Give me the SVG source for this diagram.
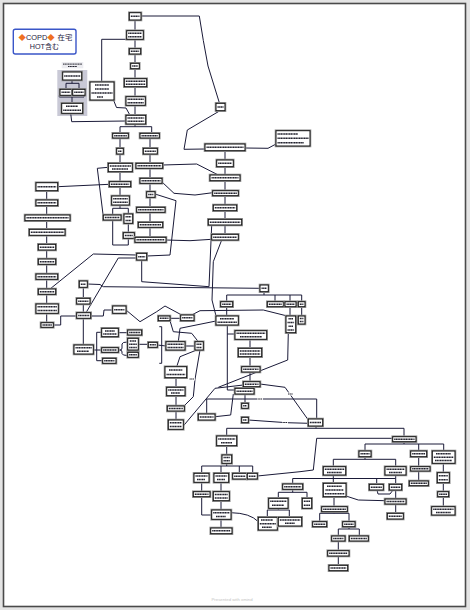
<svg xmlns="http://www.w3.org/2000/svg" width="470" height="610" viewBox="0 0 470 610">
<style>
.o{fill:#fff;stroke:#9a9a9a;stroke-width:2.6}
.n{fill:#fff;stroke:#111;stroke-width:1}
.t{stroke:#22222e;stroke-width:1.5;stroke-dasharray:1.3 .35}
.c{fill:none;stroke:#1a1a38;stroke-width:1;stroke-linejoin:round}
.lb{fill:#fff}
</style>
<rect x="0" y="0" width="470" height="610" fill="#e4e4e4"/>
<rect x="3.5" y="3.5" width="462" height="603" fill="#fff" stroke="#4a4a4a" stroke-width="1.6"/>
<g id="title">
<rect x="13.3" y="29.3" width="62.7" height="24.7" rx="2" fill="#fff" stroke="#3a56c8" stroke-width="1.4"/>
<text x="18.5" y="39.5" font-family="'Liberation Sans','Noto Sans CJK JP',sans-serif" font-size="7.4" fill="#1e2240"><tspan fill="#f07020">◆</tspan>COPD<tspan fill="#f07020">◆</tspan><tspan x="57.5">在宅</tspan></text>
<text x="44.5" y="48.6" text-anchor="middle" font-family="'Liberation Sans','Noto Sans CJK JP',sans-serif" font-size="7.2" fill="#1e2240">HOT含む</text>
</g>
<g id="group-bg">
<rect x="57.3" y="70" width="30" height="46" fill="#c9c9d6"/>
<rect x="61.7" y="62" width="21.6" height="6.3" fill="#ececf0"/>
<line class="t" x1="63" y1="64.1" x2="82" y2="64.1" style="stroke-width:1"/>
<line class="t" x1="68" y1="66.5" x2="77" y2="66.5" style="stroke-width:1"/>
</g>
<g id="connectors">
<polyline class="c" points="135,20 135,30.7"/>
<polyline class="c" points="135,39.3 135,48.7"/>
<polyline class="c" points="135,54 135,63.3"/>
<polyline class="c" points="135,68.7 135,78.7"/>
<polyline class="c" points="135,86.7 135,96.7"/>
<polyline class="c" points="135,105.3 135,115.3"/>
<path class="c" d="M141,16 L199.3,16 Q203,40 208,66 L219.5,103.3"/>
<polyline class="c" points="220,110.7 187.3,130 184,149.3 205,149"/>
<polyline class="c" points="245,148 268,148.3 276,144"/>
<polyline class="c" points="225,150.7 225,160"/>
<polyline class="c" points="101.7,82 101.7,39.3 126.7,39.3"/>
<polyline class="c" points="113.5,100 116.5,107.5 126,108 130,115.3"/>
<polyline class="c" points="72,80 72,83.3"/>
<polyline class="c" points="66,89.3 66,83.3 79,83.3 79,89.3"/>
<polyline class="c" points="59.3,95.3 59.3,97 84,97 84,95.3"/>
<polyline class="c" points="72,97 72,103.3"/>
<polyline class="c" points="70.7,113.3 71.7,121.7 126,121"/>
<polyline class="c" points="135,124 135,126.7"/>
<polyline class="c" points="120,133.3 120,126.7 151.7,126.7 151.7,133.3"/>
<polyline class="c" points="120,138 120,148.3"/>
<polyline class="c" points="150,138 150,148.3"/>
<polyline class="c" points="120,154 120,163.3"/>
<polyline class="c" points="150,154 150,163.3"/>
<polyline class="c" points="120,171.7 120,181.7"/>
<polyline class="c" points="57.7,186.7 109.3,184.3"/>
<polyline class="c" points="108.3,167.3 97.3,168.3 103.3,216.7"/>
<polyline class="c" points="120,186.7 120,196"/>
<polyline class="c" points="120,205 120,208.3"/>
<polyline class="c" points="112.7,215 112.7,208.3 128.3,208.3 128.3,214"/>
<polyline class="c" points="128.3,223.3 128.3,232.7"/>
<polyline class="c" points="112.7,220 112.7,245 128.3,245 128.3,238.3"/>
<polyline class="c" points="150,168.3 150,178.3"/>
<polyline class="c" points="150,183.3 150,191.7"/>
<polyline class="c" points="150,197.3 150,207.3"/>
<polyline class="c" points="150,212.3 150,222.3"/>
<polyline class="c" points="150,227.3 150,237.3"/>
<polyline class="c" points="162.7,165 196.7,164 218.3,175"/>
<polyline class="c" points="161.7,181.7 174,193.3 195,195 212.7,192.7"/>
<polyline class="c" points="155,194 176,200.7 170,255 146.7,256"/>
<polyline class="c" points="166,240 190,240.7 211.7,239.3"/>
<polyline class="c" points="225,166.7 225,175"/>
<polyline class="c" points="225,180.7 225,190.7"/>
<polyline class="c" points="225,195.7 225,205"/>
<polyline class="c" points="225,210.7 225,219.3"/>
<polyline class="c" points="225,225 225,234.3"/>
<polyline class="c" points="46.7,190.7 46.7,200"/>
<polyline class="c" points="46.7,205.7 46.7,215"/>
<polyline class="c" points="46.7,220.7 46.7,229.3"/>
<polyline class="c" points="46.7,235.3 46.7,244.3"/>
<polyline class="c" points="46.7,250 46.7,259"/>
<polyline class="c" points="46.7,264.3 46.7,274"/>
<polyline class="c" points="46.7,279.3 46.7,289"/>
<polyline class="c" points="46.7,294.3 46.7,304"/>
<polyline class="c" points="46.7,313.3 46.7,322.7"/>
<polyline class="c" points="136.7,255 93.3,254 50,289"/>
<polyline class="c" points="136.7,258 118.3,258 86,312.7"/>
<polyline class="c" points="141.7,260 141.7,281.7 209,286.7 211.7,225"/>
<polyline class="c" points="87.3,284 100,284.5 103.3,286.7 260,288.3"/>
<polyline class="c" points="83.3,287.3 83.3,298.3"/>
<polyline class="c" points="83.3,304 83.3,312.7"/>
<polyline class="c" points="221.7,240 213.3,261.7 212,300 216,316"/>
<polyline class="c" points="264,291.7 264,295"/>
<polyline class="c" points="226.7,301.7 226.7,295 301.7,295 301.7,301.7"/>
<polyline class="c" points="275,295 275,301.7"/>
<polyline class="c" points="290,295 290,301.7"/>
<polyline class="c" points="226.7,306.7 226.7,316"/>
<polyline class="c" points="290,306.7 290,316"/>
<polyline class="c" points="301.7,306.7 301.7,316"/>
<polyline class="c" points="53.3,325 60.7,325 60.7,316 76.7,316"/>
<polyline class="c" points="90.7,316 103.3,316 104,310 112.7,310"/>
<polyline class="c" points="126,310 140,321.7 156.7,311.7 165,306 181.7,315"/>
<polyline class="c" points="170,318.3 180.7,318.3"/>
<polyline class="c" points="191.7,315 200,310.7 263.3,310 287.3,316"/>
<polyline class="c" points="83.3,318.3 83.3,345"/>
<polyline class="c" points="93.3,350 96.7,350"/>
<polyline class="c" points="101.7,332.3 96.7,332.3 96.7,360.7 102.7,360.7"/>
<polyline class="c" points="96.7,350 101.7,350"/>
<polyline class="c" points="118.3,332.7 127.7,332.7"/>
<path class="c" d="M118.3,350 L120,350 Q122,350 122,348 L122,344 Q122,342 127.7,342 M122,352 Q122,350 120,350 M122,352 L122,353.5 Q122,355.5 127.7,355.5"/>
<polyline class="c" points="138.3,344.3 148.3,344.3"/>
<polyline class="c" points="159.3,326.7 161.7,326.7 161.7,363.3 159.3,363.3"/>
<polyline class="c" points="157.3,345 166,346"/>
<polyline class="c" points="185,346 195,346"/>
<polyline class="c" points="170,320.7 173.3,331.7 191.7,333.3 198.3,341.7"/>
<polyline class="c" points="216,321 180,328.3 178.3,341.7"/>
<polyline class="c" points="196.7,350 180,356.7 176.7,366.7"/>
<polyline class="c" points="176,377.7 176,387.3"/>
<polyline class="c" points="176,395.7 176,406"/>
<polyline class="c" points="176,411 176,420"/>
<polyline class="c" points="200,350 195,379.3 193.3,396.7 183.3,406.7"/>
<polyline class="c" points="183.3,426 215,388.3 243.3,385"/>
<polyline class="c" points="288.3,332.7 287.7,360 218.3,387.3"/>
<polyline class="c" points="227.3,325 227.3,334 235,334"/>
<polyline class="c" points="227.3,334 227.3,390 235,390"/>
<polyline class="c" points="250,339.3 250,348.3"/>
<polyline class="c" points="250,356.7 250,366.7"/>
<polyline class="c" points="250,372 250,381.7"/>
<polyline class="c" points="260,384 285,387.3 308.3,420"/>
<polyline class="c" points="233.3,394 230.7,415 215,416.7"/>
<polyline class="c" points="316.7,419 316.7,399 206.7,399 206.7,414"/>
<polyline class="c" points="248.3,420 286.7,422.7 308.3,423.3"/>
<polyline class="c" points="245,394 245,403.3"/>
<polyline class="c" points="316,426 316,428.3"/>
<polyline class="c" points="226.7,436 226.7,428.3 404,428.3 404,436.7"/>
<polyline class="c" points="226.7,445.7 226.7,455"/>
<polyline class="c" points="226.7,463.3 226.7,466"/>
<polyline class="c" points="201.7,473.3 201.7,466 252.7,466 252.7,473.3"/>
<polyline class="c" points="221,466 221,473.3"/>
<polyline class="c" points="239.3,466 239.3,473.3"/>
<polyline class="c" points="201.7,482.3 201.7,491.7"/>
<polyline class="c" points="221,482.3 221,491.7"/>
<polyline class="c" points="221,500.7 221,510"/>
<polyline class="c" points="221,519.3 221,528"/>
<polyline class="c" points="201.7,496.7 201.7,515 211.7,515"/>
<path class="c" d="M231,512.7 Q250,513 258.3,521.7"/>
<polyline class="c" points="392.7,438.3 316.7,438.3 313.3,470 300,471.7 257.3,476"/>
<polyline class="c" points="404,441.7 404,444"/>
<polyline class="c" points="365,451 365,444 443.7,444 443.7,451"/>
<polyline class="c" points="418.7,444 418.7,451"/>
<polyline class="c" points="365,456.7 365,459.3"/>
<polyline class="c" points="333.3,466.7 333.3,459.3 395.7,459.3 395.7,466.7"/>
<polyline class="c" points="333.3,475 333.3,478.5"/>
<polyline class="c" points="292.7,484 292.7,478.5 395.7,478.5 395.7,484.3"/>
<polyline class="c" points="333.3,478.5 333.3,483.3"/>
<polyline class="c" points="376.7,478.5 376.7,484.3"/>
<polyline class="c" points="395.7,475 395.7,478.5"/>
<polyline class="c" points="292.7,489.3 292.7,492.3"/>
<polyline class="c" points="278.3,498.3 278.3,492.3 307,492.3 307,498.3"/>
<polyline class="c" points="278.3,508.3 278.3,510"/>
<polyline class="c" points="267.3,517.3 267.3,510 289.3,510 289.3,517.3"/>
<polyline class="c" points="346,496 358.3,500 385,500.7"/>
<polyline class="c" points="377,490 378,494 390,494 393,490"/>
<polyline class="c" points="395.7,490 395.7,499"/>
<polyline class="c" points="395.7,504 395.7,513.3"/>
<polyline class="c" points="418.7,456.7 418.7,466.7"/>
<polyline class="c" points="418.7,471 418.7,481"/>
<polyline class="c" points="443.3,463.3 443.3,472.7"/>
<polyline class="c" points="443.3,482.7 443.3,491.7"/>
<polyline class="c" points="443.3,496.7 443.3,506.7"/>
<polyline class="c" points="334,496.7 334,506.7"/>
<polyline class="c" points="334,511.7 334,513.3"/>
<polyline class="c" points="319.7,521.7 319.7,513.3 349,513.3 349,521.7"/>
<polyline class="c" points="349,526.7 349,529"/>
<polyline class="c" points="338.3,536 338.3,529 359.3,529 359.3,536"/>
<polyline class="c" points="338.3,541 338.3,550.7"/>
<polyline class="c" points="338.3,556 338.3,565.3"/>
<rect class="lb" x="189" y="377.5" width="6" height="3"/><line class="t" x1="189.5" y1="379" x2="194.5" y2="379" style="stroke-width:1"/>
<rect class="lb" x="257" y="397.5" width="6" height="3"/><line class="t" x1="257.5" y1="399" x2="262.5" y2="399" style="stroke-width:1"/>
<rect class="lb" x="287.5" y="392.5" width="6" height="3"/><line class="t" x1="288" y1="394" x2="293" y2="394" style="stroke-width:1"/>
<rect class="lb" x="282" y="421" width="6" height="3"/><line class="t" x1="282.5" y1="422.5" x2="287.5" y2="422.5" style="stroke-width:1"/>
</g>
<g id="n1"><rect class="o" x="129.3" y="12.7" width="11.7" height="7.3"/><rect class="n" x="129.3" y="12.7" width="11.7" height="7.3"/><line class="t" x1="130.8" y1="16.35" x2="139.5" y2="16.35"/></g>
<g id="n2"><rect class="o" x="126.7" y="30.7" width="16.6" height="8.6"/><rect class="n" x="126.7" y="30.7" width="16.6" height="8.6"/><line class="t" x1="128.2" y1="33.35" x2="141.8" y2="33.35"/><line class="t" x1="128.2" y1="36.65" x2="141.8" y2="36.65"/></g>
<g id="n3"><rect class="o" x="129.3" y="48.7" width="11.4" height="5.3"/><rect class="n" x="129.3" y="48.7" width="11.4" height="5.3"/><line class="t" x1="130.8" y1="51.35" x2="139.2" y2="51.35"/></g>
<g id="n4"><rect class="o" x="130.7" y="63.3" width="8.6" height="5.4"/><rect class="n" x="130.7" y="63.3" width="8.6" height="5.4"/><line class="t" x1="132.2" y1="66" x2="137.8" y2="66"/></g>
<g id="n5"><rect class="o" x="124.3" y="78.7" width="22.4" height="8"/><rect class="n" x="124.3" y="78.7" width="22.4" height="8"/><line class="t" x1="125.8" y1="81.2" x2="145.2" y2="81.2"/><line class="t" x1="125.8" y1="84.2" x2="145.2" y2="84.2"/></g>
<g id="n6"><rect class="o" x="126" y="96.7" width="19.3" height="8.6"/><rect class="n" x="126" y="96.7" width="19.3" height="8.6"/><line class="t" x1="127.5" y1="99.35" x2="143.8" y2="99.35"/><line class="t" x1="127.5" y1="102.65" x2="143.8" y2="102.65"/></g>
<g id="n7"><rect class="o" x="126" y="115.3" width="19.7" height="8.7"/><rect class="n" x="126" y="115.3" width="19.7" height="8.7"/><line class="t" x1="127.5" y1="118" x2="144.2" y2="118"/><line class="t" x1="127.5" y1="121.3" x2="144.2" y2="121.3"/></g>
<g id="n8"><rect class="o" x="90" y="82" width="24" height="18"/><rect class="n" x="90" y="82" width="24" height="18"/><line class="t" x1="95" y1="85" x2="109" y2="85"/><line class="t" x1="95" y1="89" x2="109" y2="89"/><line class="t" x1="91.5" y1="93" x2="112.5" y2="93"/><line class="t" x1="97" y1="97" x2="103" y2="97"/></g>
<g id="g1"><rect class="o" x="62.7" y="72" width="19" height="8"/><rect class="n" x="62.7" y="72" width="19" height="8"/><line class="t" x1="64.2" y1="76" x2="80.2" y2="76"/></g>
<g id="g2"><rect class="o" x="60" y="89.3" width="11.7" height="6"/><rect class="n" x="60" y="89.3" width="11.7" height="6"/><line class="t" x1="61.5" y1="92.3" x2="70.2" y2="92.3"/></g>
<g id="g3"><rect class="o" x="72.7" y="89.3" width="12.3" height="6"/><rect class="n" x="72.7" y="89.3" width="12.3" height="6"/><line class="t" x1="74.2" y1="92.3" x2="83.5" y2="92.3"/></g>
<g id="g4"><rect class="o" x="61.7" y="103.3" width="21" height="10"/><rect class="n" x="61.7" y="103.3" width="21" height="10"/><line class="t" x1="66" y1="106.3" x2="78" y2="106.3"/><line class="t" x1="63.2" y1="110.3" x2="81.2" y2="110.3"/></g>
<g id="n9"><rect class="o" x="216" y="103.3" width="9" height="7.4"/><rect class="n" x="216" y="103.3" width="9" height="7.4"/><line class="t" x1="217.5" y1="107" x2="223.5" y2="107"/></g>
<g id="n10"><rect class="o" x="205" y="144" width="40" height="6.7"/><rect class="n" x="205" y="144" width="40" height="6.7"/><line class="t" x1="206.5" y1="147.35" x2="243.5" y2="147.35"/></g>
<g id="n11"><rect class="o" x="276" y="130.7" width="34" height="15.3"/><rect class="n" x="276" y="130.7" width="34" height="15.3"/><line class="t" x1="277.5" y1="133.9" x2="298" y2="133.9"/><line class="t" x1="277.5" y1="138.35" x2="308.5" y2="138.35"/><line class="t" x1="277.5" y1="142.8" x2="304" y2="142.8"/></g>
<g id="n12"><rect class="o" x="112.7" y="133.3" width="15.6" height="4.7"/><rect class="n" x="112.7" y="133.3" width="15.6" height="4.7"/><line class="t" x1="114.2" y1="135.65" x2="126.8" y2="135.65"/></g>
<g id="n13"><rect class="o" x="140" y="133.3" width="19.3" height="4.7"/><rect class="n" x="140" y="133.3" width="19.3" height="4.7"/><line class="t" x1="141.5" y1="135.65" x2="157.8" y2="135.65"/></g>
<g id="n14"><rect class="o" x="116.7" y="148.3" width="6.6" height="5.7"/><rect class="n" x="116.7" y="148.3" width="6.6" height="5.7"/><line class="t" x1="118.2" y1="151.15" x2="121.8" y2="151.15"/></g>
<g id="n15"><rect class="o" x="143.3" y="148.3" width="14" height="5.7"/><rect class="n" x="143.3" y="148.3" width="14" height="5.7"/><line class="t" x1="144.8" y1="151.15" x2="155.8" y2="151.15"/></g>
<g id="n16"><rect class="o" x="108.3" y="163.3" width="24" height="8.4"/><rect class="n" x="108.3" y="163.3" width="24" height="8.4"/><line class="t" x1="109.8" y1="165.9" x2="130.8" y2="165.9"/><line class="t" x1="112" y1="169.1" x2="128" y2="169.1"/></g>
<g id="n17"><rect class="o" x="136" y="163.3" width="26.7" height="5"/><rect class="n" x="136" y="163.3" width="26.7" height="5"/><line class="t" x1="137.5" y1="165.8" x2="161.2" y2="165.8"/></g>
<g id="n18"><rect class="o" x="109.3" y="181.7" width="21.4" height="5"/><rect class="n" x="109.3" y="181.7" width="21.4" height="5"/><line class="t" x1="110.8" y1="184.2" x2="129.2" y2="184.2"/></g>
<g id="n19"><rect class="o" x="36" y="182.7" width="21.7" height="8"/><rect class="n" x="36" y="182.7" width="21.7" height="8"/><line class="t" x1="37.5" y1="186.7" x2="56.2" y2="186.7"/></g>
<g id="n20"><rect class="o" x="111.7" y="196" width="17.6" height="9"/><rect class="n" x="111.7" y="196" width="17.6" height="9"/><line class="t" x1="113.2" y1="198.75" x2="127.8" y2="198.75"/><line class="t" x1="113.2" y1="202.25" x2="127.8" y2="202.25"/></g>
<g id="n21"><rect class="o" x="103.3" y="215" width="17.7" height="5"/><rect class="n" x="103.3" y="215" width="17.7" height="5"/><line class="t" x1="104.8" y1="217.5" x2="119.5" y2="217.5"/></g>
<g id="n22"><rect class="o" x="124" y="214" width="8.7" height="9.3"/><rect class="n" x="124" y="214" width="8.7" height="9.3"/><line class="t" x1="125.5" y1="216.8" x2="131.2" y2="216.8"/><line class="t" x1="125.5" y1="220.5" x2="131.2" y2="220.5"/></g>
<g id="n23"><rect class="o" x="123.3" y="232.7" width="11" height="5.6"/><rect class="n" x="123.3" y="232.7" width="11" height="5.6"/><line class="t" x1="124.8" y1="235.5" x2="132.8" y2="235.5"/></g>
<g id="n24"><rect class="o" x="140" y="178.3" width="22" height="5"/><rect class="n" x="140" y="178.3" width="22" height="5"/><line class="t" x1="141.5" y1="180.8" x2="160.5" y2="180.8"/></g>
<g id="n25"><rect class="o" x="146.7" y="191.7" width="8.3" height="5.6"/><rect class="n" x="146.7" y="191.7" width="8.3" height="5.6"/><line class="t" x1="148.2" y1="194.5" x2="153.5" y2="194.5"/></g>
<g id="n26"><rect class="o" x="136.7" y="207.3" width="28.3" height="5"/><rect class="n" x="136.7" y="207.3" width="28.3" height="5"/><line class="t" x1="138.2" y1="209.8" x2="163.5" y2="209.8"/></g>
<g id="n27"><rect class="o" x="138.3" y="222.3" width="24.4" height="5"/><rect class="n" x="138.3" y="222.3" width="24.4" height="5"/><line class="t" x1="139.8" y1="224.8" x2="161.2" y2="224.8"/></g>
<g id="n28"><rect class="o" x="135" y="237.3" width="31" height="5"/><rect class="n" x="135" y="237.3" width="31" height="5"/><line class="t" x1="136.5" y1="239.8" x2="164.5" y2="239.8"/></g>
<g id="n29"><rect class="o" x="216.7" y="160" width="16.6" height="6.7"/><rect class="n" x="216.7" y="160" width="16.6" height="6.7"/><line class="t" x1="218.2" y1="163.35" x2="231.8" y2="163.35"/></g>
<g id="n30"><rect class="o" x="210" y="175" width="30" height="5.7"/><rect class="n" x="210" y="175" width="30" height="5.7"/><line class="t" x1="211.5" y1="177.85" x2="238.5" y2="177.85"/></g>
<g id="n31"><rect class="o" x="212.7" y="190.7" width="25.6" height="5"/><rect class="n" x="212.7" y="190.7" width="25.6" height="5"/><line class="t" x1="214.2" y1="193.2" x2="236.8" y2="193.2"/></g>
<g id="n32"><rect class="o" x="213.3" y="205" width="23.4" height="5.7"/><rect class="n" x="213.3" y="205" width="23.4" height="5.7"/><line class="t" x1="214.8" y1="207.85" x2="235.2" y2="207.85"/></g>
<g id="n33"><rect class="o" x="208.3" y="219.3" width="33.4" height="5.7"/><rect class="n" x="208.3" y="219.3" width="33.4" height="5.7"/><line class="t" x1="209.8" y1="222.15" x2="240.2" y2="222.15"/></g>
<g id="n34"><rect class="o" x="211.7" y="234.3" width="26.6" height="5.7"/><rect class="n" x="211.7" y="234.3" width="26.6" height="5.7"/><line class="t" x1="213.2" y1="237.15" x2="236.8" y2="237.15"/></g>
<g id="n35"><rect class="o" x="36" y="200" width="21.7" height="5.7"/><rect class="n" x="36" y="200" width="21.7" height="5.7"/><line class="t" x1="37.5" y1="202.85" x2="56.2" y2="202.85"/></g>
<g id="n36"><rect class="o" x="25" y="215" width="45" height="5.7"/><rect class="n" x="25" y="215" width="45" height="5.7"/><line class="t" x1="26.5" y1="217.85" x2="68.5" y2="217.85"/></g>
<g id="n37"><rect class="o" x="29.3" y="229.3" width="35.7" height="6"/><rect class="n" x="29.3" y="229.3" width="35.7" height="6"/><line class="t" x1="30.8" y1="232.3" x2="63.5" y2="232.3"/></g>
<g id="n38"><rect class="o" x="38.3" y="244.3" width="17.4" height="5.7"/><rect class="n" x="38.3" y="244.3" width="17.4" height="5.7"/><line class="t" x1="39.8" y1="247.15" x2="54.2" y2="247.15"/></g>
<g id="n39"><rect class="o" x="38.3" y="259" width="17.4" height="5.3"/><rect class="n" x="38.3" y="259" width="17.4" height="5.3"/><line class="t" x1="39.8" y1="261.65" x2="54.2" y2="261.65"/></g>
<g id="n40"><rect class="o" x="36" y="274" width="21.7" height="5.3"/><rect class="n" x="36" y="274" width="21.7" height="5.3"/><line class="t" x1="37.5" y1="276.65" x2="56.2" y2="276.65"/></g>
<g id="n41"><rect class="o" x="38.3" y="289" width="17.4" height="5.3"/><rect class="n" x="38.3" y="289" width="17.4" height="5.3"/><line class="t" x1="39.8" y1="291.65" x2="54.2" y2="291.65"/></g>
<g id="n42"><rect class="o" x="36" y="304" width="22.3" height="9.3"/><rect class="n" x="36" y="304" width="22.3" height="9.3"/><line class="t" x1="37.5" y1="306.8" x2="56.8" y2="306.8"/><line class="t" x1="37.5" y1="310.5" x2="56.8" y2="310.5"/></g>
<g id="n43"><rect class="o" x="41" y="322.7" width="12.3" height="4.6"/><rect class="n" x="41" y="322.7" width="12.3" height="4.6"/><line class="t" x1="42.5" y1="325" x2="51.8" y2="325"/></g>
<g id="n44"><rect class="o" x="136.7" y="253.3" width="10" height="6.7"/><rect class="n" x="136.7" y="253.3" width="10" height="6.7"/><line class="t" x1="138.2" y1="256.65" x2="145.2" y2="256.65"/></g>
<g id="n45"><rect class="o" x="79.3" y="281" width="8" height="6.3"/><rect class="n" x="79.3" y="281" width="8" height="6.3"/><line class="t" x1="80.8" y1="284.15" x2="85.8" y2="284.15"/></g>
<g id="n46"><rect class="o" x="76.7" y="298.3" width="13.3" height="5.7"/><rect class="n" x="76.7" y="298.3" width="13.3" height="5.7"/><line class="t" x1="78.2" y1="301.15" x2="88.5" y2="301.15"/></g>
<g id="n47"><rect class="o" x="76.7" y="312.7" width="14" height="5.6"/><rect class="n" x="76.7" y="312.7" width="14" height="5.6"/><line class="t" x1="78.2" y1="315.5" x2="89.2" y2="315.5"/></g>
<g id="n48"><rect class="o" x="112.7" y="306" width="13.3" height="7.3"/><rect class="n" x="112.7" y="306" width="13.3" height="7.3"/><line class="t" x1="114.2" y1="309.65" x2="124.5" y2="309.65"/></g>
<g id="n49"><rect class="o" x="158.3" y="316" width="11.7" height="4.7"/><rect class="n" x="158.3" y="316" width="11.7" height="4.7"/><line class="t" x1="159.8" y1="318.35" x2="168.5" y2="318.35"/></g>
<g id="n50"><rect class="o" x="180.7" y="315" width="13.3" height="5.7"/><rect class="n" x="180.7" y="315" width="13.3" height="5.7"/><line class="t" x1="182.2" y1="317.85" x2="192.5" y2="317.85"/></g>
<g id="n51"><rect class="o" x="74" y="345" width="19.3" height="9"/><rect class="n" x="74" y="345" width="19.3" height="9"/><line class="t" x1="75.5" y1="347.75" x2="91.8" y2="347.75"/><line class="t" x1="77" y1="351.25" x2="89" y2="351.25"/></g>
<g id="n52"><rect class="o" x="101.7" y="328.3" width="16.6" height="8.4"/><rect class="n" x="101.7" y="328.3" width="16.6" height="8.4"/><line class="t" x1="105" y1="330.9" x2="115" y2="330.9"/><line class="t" x1="103.2" y1="334.1" x2="116.8" y2="334.1"/></g>
<g id="n53"><rect class="o" x="101.7" y="347.7" width="16.6" height="4.6"/><rect class="n" x="101.7" y="347.7" width="16.6" height="4.6"/><line class="t" x1="103.2" y1="350" x2="116.8" y2="350"/></g>
<g id="n54"><rect class="o" x="102.7" y="358.3" width="13.3" height="5"/><rect class="n" x="102.7" y="358.3" width="13.3" height="5"/><line class="t" x1="104.2" y1="360.8" x2="114.5" y2="360.8"/></g>
<g id="n55"><rect class="o" x="127.7" y="330" width="14" height="5"/><rect class="n" x="127.7" y="330" width="14" height="5"/><line class="t" x1="129.2" y1="332.5" x2="140.2" y2="332.5"/></g>
<g id="n56"><rect class="o" x="127.7" y="338.3" width="10.6" height="11.7"/><rect class="n" x="127.7" y="338.3" width="10.6" height="11.7"/><line class="t" x1="129.8" y1="340.9" x2="136.2" y2="340.9"/><line class="t" x1="129.2" y1="344.15" x2="136.8" y2="344.15"/><line class="t" x1="129.2" y1="347.4" x2="136.8" y2="347.4"/></g>
<g id="n57"><rect class="o" x="127.7" y="352.3" width="10.6" height="5"/><rect class="n" x="127.7" y="352.3" width="10.6" height="5"/><line class="t" x1="129.2" y1="354.8" x2="136.8" y2="354.8"/></g>
<g id="n58"><rect class="o" x="148.3" y="342.3" width="9" height="5"/><rect class="n" x="148.3" y="342.3" width="9" height="5"/><line class="t" x1="149.8" y1="344.8" x2="155.8" y2="344.8"/></g>
<g id="n59"><rect class="o" x="166" y="341.7" width="19" height="8.3"/><rect class="n" x="166" y="341.7" width="19" height="8.3"/><line class="t" x1="167.5" y1="344.3" x2="183.5" y2="344.3"/><line class="t" x1="167.5" y1="347.5" x2="183.5" y2="347.5"/></g>
<g id="n60"><rect class="o" x="195" y="341.7" width="8.3" height="8.3"/><rect class="n" x="195" y="341.7" width="8.3" height="8.3"/><line class="t" x1="196.5" y1="344.3" x2="201.8" y2="344.3"/><line class="t" x1="196.5" y1="347.5" x2="201.8" y2="347.5"/></g>
<g id="n61"><rect class="o" x="165" y="366.7" width="21.7" height="11"/><rect class="n" x="165" y="366.7" width="21.7" height="11"/><line class="t" x1="169" y1="369.95" x2="182.5" y2="369.95"/><line class="t" x1="166.5" y1="374.45" x2="185.2" y2="374.45"/></g>
<g id="n62"><rect class="o" x="166.7" y="387.3" width="18.3" height="8.4"/><rect class="n" x="166.7" y="387.3" width="18.3" height="8.4"/><line class="t" x1="168.2" y1="389.9" x2="183.5" y2="389.9"/><line class="t" x1="171" y1="393.1" x2="180" y2="393.1"/></g>
<g id="n63"><rect class="o" x="167.3" y="406" width="17" height="5"/><rect class="n" x="167.3" y="406" width="17" height="5"/><line class="t" x1="168.8" y1="408.5" x2="182.8" y2="408.5"/></g>
<g id="n64"><rect class="o" x="168.3" y="420" width="15" height="9.3"/><rect class="n" x="168.3" y="420" width="15" height="9.3"/><line class="t" x1="169.8" y1="422.8" x2="181.8" y2="422.8"/><line class="t" x1="169.8" y1="426.5" x2="181.8" y2="426.5"/></g>
<g id="n65"><rect class="o" x="260" y="285" width="8.3" height="6.7"/><rect class="n" x="260" y="285" width="8.3" height="6.7"/><line class="t" x1="261.5" y1="288.35" x2="266.8" y2="288.35"/></g>
<g id="n66"><rect class="o" x="220.7" y="301.7" width="12" height="5"/><rect class="n" x="220.7" y="301.7" width="12" height="5"/><line class="t" x1="222.2" y1="304.2" x2="231.2" y2="304.2"/></g>
<g id="n67"><rect class="o" x="267.3" y="301.7" width="16" height="5"/><rect class="n" x="267.3" y="301.7" width="16" height="5"/><line class="t" x1="268.8" y1="304.2" x2="281.8" y2="304.2"/></g>
<g id="n68"><rect class="o" x="285" y="301.7" width="11" height="5"/><rect class="n" x="285" y="301.7" width="11" height="5"/><line class="t" x1="286.5" y1="304.2" x2="294.5" y2="304.2"/></g>
<g id="n69"><rect class="o" x="298.3" y="301.7" width="6.7" height="5"/><rect class="n" x="298.3" y="301.7" width="6.7" height="5"/><line class="t" x1="299.8" y1="304.2" x2="303.5" y2="304.2"/></g>
<g id="n70"><rect class="o" x="216" y="316" width="22.3" height="9"/><rect class="n" x="216" y="316" width="22.3" height="9"/><line class="t" x1="220" y1="318.75" x2="234" y2="318.75"/><line class="t" x1="217.5" y1="322.25" x2="236.8" y2="322.25"/></g>
<g id="n71"><rect class="o" x="286" y="316" width="9.7" height="16.7"/><rect class="n" x="286" y="316" width="9.7" height="16.7"/><line class="t" x1="288.5" y1="318.8" x2="293" y2="318.8"/><line class="t" x1="287.5" y1="322.5" x2="294.2" y2="322.5"/><line class="t" x1="288.5" y1="326.2" x2="293" y2="326.2"/><line class="t" x1="287.5" y1="329.9" x2="294.2" y2="329.9"/></g>
<g id="n72"><rect class="o" x="298.3" y="316" width="6.7" height="8"/><rect class="n" x="298.3" y="316" width="6.7" height="8"/><line class="t" x1="299.8" y1="318.5" x2="303.5" y2="318.5"/><line class="t" x1="299.8" y1="321.5" x2="303.5" y2="321.5"/></g>
<g id="n73"><rect class="o" x="235" y="330.7" width="31.7" height="8.6"/><rect class="n" x="235" y="330.7" width="31.7" height="8.6"/><line class="t" x1="236.5" y1="333.35" x2="265.2" y2="333.35"/><line class="t" x1="240" y1="336.65" x2="262" y2="336.65"/></g>
<g id="n74"><rect class="o" x="238.3" y="348.3" width="23.4" height="8.4"/><rect class="n" x="238.3" y="348.3" width="23.4" height="8.4"/><line class="t" x1="239.8" y1="350.9" x2="260.2" y2="350.9"/><line class="t" x1="239.8" y1="354.1" x2="260.2" y2="354.1"/></g>
<g id="n75"><rect class="o" x="241.7" y="366.7" width="18.3" height="5.3"/><rect class="n" x="241.7" y="366.7" width="18.3" height="5.3"/><line class="t" x1="243.2" y1="369.35" x2="258.5" y2="369.35"/></g>
<g id="n76"><rect class="o" x="243.3" y="381.7" width="16.7" height="5"/><rect class="n" x="243.3" y="381.7" width="16.7" height="5"/><line class="t" x1="244.8" y1="384.2" x2="258.5" y2="384.2"/></g>
<g id="n77"><rect class="o" x="235" y="388.3" width="19" height="5.7"/><rect class="n" x="235" y="388.3" width="19" height="5.7"/><line class="t" x1="236.5" y1="391.15" x2="252.5" y2="391.15"/></g>
<g id="n78"><rect class="o" x="241.7" y="403.3" width="6.6" height="5"/><rect class="n" x="241.7" y="403.3" width="6.6" height="5"/><line class="t" x1="243.2" y1="405.8" x2="246.8" y2="405.8"/></g>
<g id="n79"><rect class="o" x="241.7" y="417.3" width="6.6" height="5.4"/><rect class="n" x="241.7" y="417.3" width="6.6" height="5.4"/><line class="t" x1="243.2" y1="420" x2="246.8" y2="420"/></g>
<g id="n80"><rect class="o" x="198.3" y="414" width="16.7" height="6"/><rect class="n" x="198.3" y="414" width="16.7" height="6"/><line class="t" x1="199.8" y1="417" x2="213.5" y2="417"/></g>
<g id="n81"><rect class="o" x="308.3" y="419" width="14.4" height="7"/><rect class="n" x="308.3" y="419" width="14.4" height="7"/><line class="t" x1="309.8" y1="422.5" x2="321.2" y2="422.5"/></g>
<g id="n82"><rect class="o" x="216.7" y="436" width="20" height="9.7"/><rect class="n" x="216.7" y="436" width="20" height="9.7"/><line class="t" x1="218.2" y1="438.9" x2="235.2" y2="438.9"/><line class="t" x1="221" y1="442.8" x2="232" y2="442.8"/></g>
<g id="n83"><rect class="o" x="392.7" y="436.7" width="23.3" height="5"/><rect class="n" x="392.7" y="436.7" width="23.3" height="5"/><line class="t" x1="394.2" y1="439.2" x2="414.5" y2="439.2"/></g>
<g id="n84"><rect class="o" x="222" y="455" width="9.7" height="8.3"/><rect class="n" x="222" y="455" width="9.7" height="8.3"/><line class="t" x1="223.5" y1="457.6" x2="230.2" y2="457.6"/><line class="t" x1="223.5" y1="460.7" x2="230.2" y2="460.7"/></g>
<g id="n85"><rect class="o" x="194" y="473.3" width="15" height="9"/><rect class="n" x="194" y="473.3" width="15" height="9"/><line class="t" x1="195.5" y1="476.05" x2="207.5" y2="476.05"/><line class="t" x1="197" y1="479.55" x2="205" y2="479.55"/></g>
<g id="n86"><rect class="o" x="214" y="473.3" width="14.7" height="9"/><rect class="n" x="214" y="473.3" width="14.7" height="9"/><line class="t" x1="215.5" y1="476.05" x2="227.2" y2="476.05"/><line class="t" x1="217" y1="479.55" x2="225" y2="479.55"/></g>
<g id="n87"><rect class="o" x="232.7" y="473.3" width="14" height="5.7"/><rect class="n" x="232.7" y="473.3" width="14" height="5.7"/><line class="t" x1="234.2" y1="476.15" x2="245.2" y2="476.15"/></g>
<g id="n88"><rect class="o" x="247.3" y="473.3" width="10" height="5.7"/><rect class="n" x="247.3" y="473.3" width="10" height="5.7"/><line class="t" x1="248.8" y1="476.15" x2="255.8" y2="476.15"/></g>
<g id="n89"><rect class="o" x="193.3" y="491.7" width="16.7" height="5"/><rect class="n" x="193.3" y="491.7" width="16.7" height="5"/><line class="t" x1="194.8" y1="494.2" x2="208.5" y2="494.2"/></g>
<g id="n90"><rect class="o" x="213.3" y="491.7" width="16" height="9"/><rect class="n" x="213.3" y="491.7" width="16" height="9"/><line class="t" x1="214.8" y1="494.45" x2="227.8" y2="494.45"/><line class="t" x1="214.8" y1="497.95" x2="227.8" y2="497.95"/></g>
<g id="n91"><rect class="o" x="211.7" y="510" width="19.3" height="9.3"/><rect class="n" x="211.7" y="510" width="19.3" height="9.3"/><line class="t" x1="213.2" y1="512.8" x2="229.5" y2="512.8"/><line class="t" x1="216" y1="516.5" x2="226" y2="516.5"/></g>
<g id="n92"><rect class="o" x="210.7" y="528" width="21.3" height="5.7"/><rect class="n" x="210.7" y="528" width="21.3" height="5.7"/><line class="t" x1="212.2" y1="530.85" x2="230.5" y2="530.85"/></g>
<g id="n93"><rect class="o" x="282.7" y="484" width="20" height="5.3"/><rect class="n" x="282.7" y="484" width="20" height="5.3"/><line class="t" x1="284.2" y1="486.65" x2="301.2" y2="486.65"/></g>
<g id="n94"><rect class="o" x="268.7" y="498.3" width="19.3" height="10"/><rect class="n" x="268.7" y="498.3" width="19.3" height="10"/><line class="t" x1="270.2" y1="501.3" x2="286.5" y2="501.3"/><line class="t" x1="272" y1="505.3" x2="284" y2="505.3"/></g>
<g id="n95"><rect class="o" x="302.3" y="498.3" width="9.4" height="10"/><rect class="n" x="302.3" y="498.3" width="9.4" height="10"/><line class="t" x1="303.8" y1="501.3" x2="310.2" y2="501.3"/><line class="t" x1="303.8" y1="505.3" x2="310.2" y2="505.3"/></g>
<g id="n96"><rect class="o" x="258.3" y="517.3" width="19" height="12.7"/><rect class="n" x="258.3" y="517.3" width="19" height="12.7"/><line class="t" x1="261" y1="520.1" x2="273" y2="520.1"/><line class="t" x1="259.8" y1="523.65" x2="275.8" y2="523.65"/><line class="t" x1="262" y1="527.2" x2="272" y2="527.2"/></g>
<g id="n97"><rect class="o" x="278.3" y="517.3" width="23.4" height="8.7"/><rect class="n" x="278.3" y="517.3" width="23.4" height="8.7"/><line class="t" x1="279.8" y1="520" x2="300.2" y2="520"/><line class="t" x1="285" y1="523.35" x2="295" y2="523.35"/></g>
<g id="n98"><rect class="o" x="359" y="451" width="12" height="5.7"/><rect class="n" x="359" y="451" width="12" height="5.7"/><line class="t" x1="360.5" y1="453.85" x2="369.5" y2="453.85"/></g>
<g id="n99"><rect class="o" x="410.7" y="451" width="16" height="5.7"/><rect class="n" x="410.7" y="451" width="16" height="5.7"/><line class="t" x1="412.2" y1="453.85" x2="425.2" y2="453.85"/></g>
<g id="n100"><rect class="o" x="432.3" y="451" width="22.7" height="12.3"/><rect class="n" x="432.3" y="451" width="22.7" height="12.3"/><line class="t" x1="436" y1="453.7" x2="451" y2="453.7"/><line class="t" x1="433.8" y1="457.15" x2="453.5" y2="457.15"/><line class="t" x1="435" y1="460.6" x2="452" y2="460.6"/></g>
<g id="n101"><rect class="o" x="323.3" y="466.7" width="22.4" height="8.3"/><rect class="n" x="323.3" y="466.7" width="22.4" height="8.3"/><line class="t" x1="324.8" y1="469.3" x2="344.2" y2="469.3"/><line class="t" x1="327" y1="472.4" x2="342" y2="472.4"/></g>
<g id="n102"><rect class="o" x="385" y="466.7" width="21" height="8.3"/><rect class="n" x="385" y="466.7" width="21" height="8.3"/><line class="t" x1="386.5" y1="469.3" x2="404.5" y2="469.3"/><line class="t" x1="389" y1="472.4" x2="402" y2="472.4"/></g>
<g id="n103"><rect class="o" x="410.7" y="466.7" width="19.3" height="4.3"/><rect class="n" x="410.7" y="466.7" width="19.3" height="4.3"/><line class="t" x1="412.2" y1="468.85" x2="428.5" y2="468.85"/></g>
<g id="n104"><rect class="o" x="437.3" y="472.7" width="12" height="10"/><rect class="n" x="437.3" y="472.7" width="12" height="10"/><line class="t" x1="438.8" y1="475.7" x2="447.8" y2="475.7"/><line class="t" x1="438.8" y1="479.7" x2="447.8" y2="479.7"/></g>
<g id="n105"><rect class="o" x="323.3" y="483.3" width="22.7" height="13.4"/><rect class="n" x="323.3" y="483.3" width="22.7" height="13.4"/><line class="t" x1="327" y1="486.2" x2="342" y2="486.2"/><line class="t" x1="325.5" y1="490" x2="343.5" y2="490"/><line class="t" x1="324.8" y1="493.8" x2="344.5" y2="493.8"/></g>
<g id="n106"><rect class="o" x="369.3" y="484.3" width="14" height="5.7"/><rect class="n" x="369.3" y="484.3" width="14" height="5.7"/><line class="t" x1="370.8" y1="487.15" x2="381.8" y2="487.15"/></g>
<g id="n107"><rect class="o" x="389.3" y="484.3" width="12.4" height="5.7"/><rect class="n" x="389.3" y="484.3" width="12.4" height="5.7"/><line class="t" x1="390.8" y1="487.15" x2="400.2" y2="487.15"/></g>
<g id="n108"><rect class="o" x="409.3" y="481" width="19" height="4.7"/><rect class="n" x="409.3" y="481" width="19" height="4.7"/><line class="t" x1="410.8" y1="483.35" x2="426.8" y2="483.35"/></g>
<g id="n109"><rect class="o" x="437.7" y="491.7" width="11" height="5"/><rect class="n" x="437.7" y="491.7" width="11" height="5"/><line class="t" x1="439.2" y1="494.2" x2="447.2" y2="494.2"/></g>
<g id="n110"><rect class="o" x="385" y="499" width="21" height="5"/><rect class="n" x="385" y="499" width="21" height="5"/><line class="t" x1="386.5" y1="501.5" x2="404.5" y2="501.5"/></g>
<g id="n111"><rect class="o" x="387.3" y="513.3" width="16" height="5.7"/><rect class="n" x="387.3" y="513.3" width="16" height="5.7"/><line class="t" x1="388.8" y1="516.15" x2="401.8" y2="516.15"/></g>
<g id="n112"><rect class="o" x="431.7" y="506.7" width="23.3" height="8.3"/><rect class="n" x="431.7" y="506.7" width="23.3" height="8.3"/><line class="t" x1="433.2" y1="509.3" x2="453.5" y2="509.3"/><line class="t" x1="436" y1="512.4" x2="451" y2="512.4"/></g>
<g id="n113"><rect class="o" x="321.7" y="506.7" width="25.6" height="5"/><rect class="n" x="321.7" y="506.7" width="25.6" height="5"/><line class="t" x1="323.2" y1="509.2" x2="345.8" y2="509.2"/></g>
<g id="n114"><rect class="o" x="312.7" y="521.7" width="14" height="5"/><rect class="n" x="312.7" y="521.7" width="14" height="5"/><line class="t" x1="314.2" y1="524.2" x2="325.2" y2="524.2"/></g>
<g id="n115"><rect class="o" x="342.7" y="521.7" width="12.3" height="5"/><rect class="n" x="342.7" y="521.7" width="12.3" height="5"/><line class="t" x1="344.2" y1="524.2" x2="353.5" y2="524.2"/></g>
<g id="n116"><rect class="o" x="331.7" y="536" width="13.3" height="5"/><rect class="n" x="331.7" y="536" width="13.3" height="5"/><line class="t" x1="333.2" y1="538.5" x2="343.5" y2="538.5"/></g>
<g id="n117"><rect class="o" x="349.3" y="536" width="19" height="5"/><rect class="n" x="349.3" y="536" width="19" height="5"/><line class="t" x1="350.8" y1="538.5" x2="366.8" y2="538.5"/></g>
<g id="n118"><rect class="o" x="327.7" y="550.7" width="21.3" height="5.3"/><rect class="n" x="327.7" y="550.7" width="21.3" height="5.3"/><line class="t" x1="329.2" y1="553.35" x2="347.5" y2="553.35"/></g>
<g id="n119"><rect class="o" x="329" y="565.3" width="18.7" height="5.4"/><rect class="n" x="329" y="565.3" width="18.7" height="5.4"/><line class="t" x1="330.5" y1="568" x2="346.2" y2="568"/></g>
<text x="232" y="601.2" text-anchor="middle" font-family="'Liberation Sans',sans-serif" font-size="4.3" fill="#c4c4c4">Presented with xmind</text>
</svg>
